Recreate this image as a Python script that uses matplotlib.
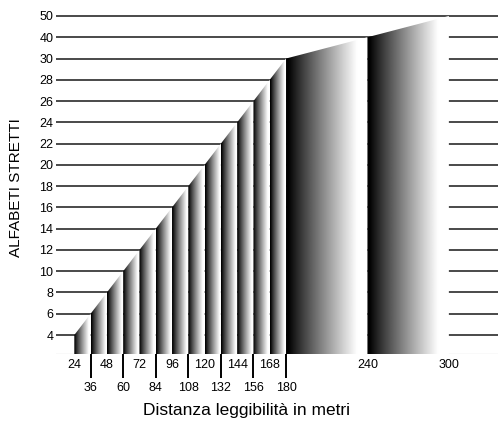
import matplotlib
matplotlib.use('Agg')
import matplotlib.pyplot as plt
from matplotlib.patches import Polygon
import numpy as np

plt.rcParams['font.family'] = ['Liberation Sans', 'DejaVu Sans']

# distanza di leggibilita (m) e altezza alfabeto corrispondente
distanze = [24, 36, 48, 60, 72, 84, 96, 108, 120, 132, 144, 156, 168, 180, 240, 300]
altezze = [4, 6, 8, 10, 12, 14, 16, 18, 20, 22, 24, 26, 28, 30, 40, 50]
# etichette sull'asse y (una riga ogni valore)
y_labels = [4, 6, 8, 10, 12, 14, 16, 18, 20, 22, 24, 26, 28, 30, 40, 50]
# prima fila di etichette x e seconda fila (con tacca)
x_row1 = [24, 48, 72, 96, 120, 144, 168, 240, 300]
x_row2 = [36, 60, 84, 108, 132, 156, 180]

W, H = 498, 421
fig = plt.figure(figsize=(W/100, H/100), dpi=100)
ax = fig.add_axes([56/W, (H-354)/H, 1-56/W, (354-5)/H])

ypos = {v: i+1 for i, v in enumerate(y_labels)}
y0 = 0.107
xlim = (10.5, 336.2)

# righe orizzontali
ax.hlines([ypos[v] for v in y_labels], xlim[0], xlim[1], color='#2a2a2a', lw=1.2, zorder=1)
ax.axhline(y0, color='#999999', lw=0.8, zorder=1)

# sfumatura nero -> bianco
t = np.linspace(0, 1, 256)
grad = np.clip((t-0.03)/0.84, 0, 1)**0.9

for i in range(len(distanze)-1):
    xa, xb = distanze[i], distanze[i+1]
    ha, hb = ypos[altezze[i]], ypos[altezze[i+1]]
    poly = Polygon([(xa, y0), (xa, ha), (xb, hb), (xb, y0)], closed=True,
                   facecolor='none', edgecolor='none')
    ax.add_patch(poly)
    im = ax.imshow(grad[None, :], cmap='gray', vmin=0, vmax=1, aspect='auto',
                   extent=(xa, xb, y0, hb), interpolation='bilinear', zorder=2)
    im.set_clip_path(poly)

ax.set_xlim(*xlim)
ax.set_ylim(y0, 16.517)

for s in ax.spines.values():
    s.set_visible(False)

ax.set_yticks([ypos[v] for v in y_labels], [str(v) for v in y_labels])
ax.tick_params(axis='y', length=0, pad=2, labelsize=9)

ax.set_xticks(x_row1, [str(v) for v in x_row1])
ax.set_xticks(x_row2, [str(v) for v in x_row2], minor=True)
ax.tick_params(axis='x', which='major', length=0, pad=3.5, labelsize=9)
ax.tick_params(axis='x', which='minor', length=17.5, width=1.4, pad=2.5,
               labelsize=9, color='black')

fig.text(246.5/W, 1-410/H, 'Distanza leggibilità in metri', ha='center', va='center', fontsize=12.5)
fig.text(16/W, 1-187.5/H, 'ALFABETI STRETTI', ha='center', va='center', rotation=90, fontsize=11)

fig.savefig('out.png', dpi=100)
